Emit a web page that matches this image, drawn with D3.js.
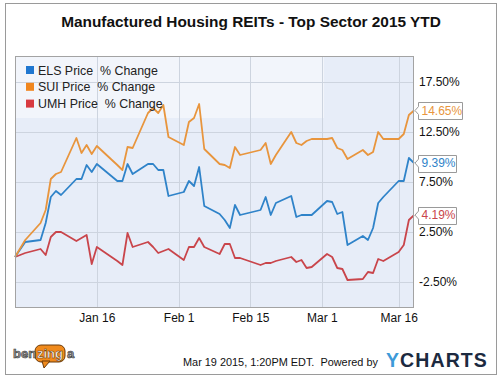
<!DOCTYPE html>
<html>
<head>
<meta charset="utf-8">
<script src="https://cdn.jsdelivr.net/npm/d3@7"></script>
<style>
  html, body { margin: 0; padding: 0; background: #fff; }
  svg { display: block; font-family: "Liberation Sans", Arial, sans-serif; }
</style>
</head>
<body>
<svg id="chart" width="500" height="379"></svg>
<script>
const title = "Manufactured Housing REITs - Top Sector 2015 YTD";
const seriesNames = ["ELS Price  % Change", "SUI Price  % Change", "UMH Price  % Change"];
const seriesColors = ["#2f83c9", "#e8953d", "#c9454b"];
const legendColors = ["#1f77d0", "#f0861e", "#d83a40"];

const dates = ["2014-12-31","2015-01-02","2015-01-05","2015-01-06","2015-01-07","2015-01-08","2015-01-09",
  "2015-01-12","2015-01-13","2015-01-14","2015-01-15","2015-01-16","2015-01-20","2015-01-21","2015-01-22","2015-01-23",
  "2015-01-26","2015-01-27","2015-01-28","2015-01-29","2015-01-30","2015-02-02","2015-02-03","2015-02-04","2015-02-05","2015-02-06",
  "2015-02-09","2015-02-10","2015-02-11","2015-02-12","2015-02-13","2015-02-17","2015-02-18","2015-02-19","2015-02-20",
  "2015-02-23","2015-02-24","2015-02-25","2015-02-26","2015-02-27","2015-03-02","2015-03-03","2015-03-04","2015-03-05","2015-03-06",
  "2015-03-09","2015-03-10","2015-03-11","2015-03-12","2015-03-13","2015-03-16","2015-03-17","2015-03-18","2015-03-19"];

const elsValues = [0,1.5,1.7,3.4,6.0,6.6,6.2,7.8,7.8,9.2,8.5,9.3,7.6,7.6,9.3,8.3,9.3,9.3,8.7,8.7,6.1,6.5,7.6,7.1,9.0,5.1,
  4.3,3.7,2.9,5.2,4.2,4.7,6.0,4.2,5.4,6.1,4.0,4.2,4.2,4.2,5.6,5.5,4.3,4.5,1.2,2.1,1.7,2.9,5.4,6.0,7.6,7.6,9.9,9.39];
const suiValues = [0,1.7,3.4,4.7,7.8,8.3,8.5,11.9,10.4,11.2,10.3,11.1,9.2,8.7,11.0,10.9,14.4,14.9,14.4,15.2,12.0,11.2,13.5,13.9,15.3,10.8,
  9.3,9.2,8.9,11.0,10.2,10.7,11.4,9.3,10.2,12.5,11.4,11.2,11.6,11.8,11.8,11.9,10.9,10.7,9.8,10.7,10.2,10.5,12.5,11.8,11.8,12.3,14.2,14.65];
const umhValues = [0,0.4,0.8,0.2,2.0,2.5,2.5,1.6,1.9,2.2,-0.7,1.0,-0.4,-0.8,2.4,1.0,1.5,1.0,0.4,0.6,0.8,-0.3,1.0,1.0,1.9,1.0,
  0.3,1.3,1.3,-0.1,-0.1,-0.8,-0.6,-0.6,-0.4,0.0,-0.5,-0.3,-1.1,-1.0,0.3,0.0,-1.1,-1.2,-2.3,-2.2,-1.5,-1.6,-0.2,-0.4,0.5,1.2,3.7,4.19];

const yTicks = [-2.5, 2.5, 7.5, 12.5, 17.5];
const xTickDates = ["2015-01-16","2015-02-01","2015-02-15","2015-03-01","2015-03-16"];
const xTickLabels = ["Jan 16","Feb 1","Feb 15","Mar 1","Mar 16"];
const footerText = "Mar 19 2015, 1:20PM EDT.  Powered by";

const parse = d3.utcParse("%Y-%m-%d");
const svg = d3.select("#chart");

// outer frame
svg.append("rect").attr("x", 5.5).attr("y", 3.5).attr("width", 491).attr("height", 371)
  .attr("fill", "#fff").attr("stroke", "#9a9a9a").attr("stroke-width", 1);

// title
svg.append("text").attr("x", 251).attr("y", 27).attr("text-anchor", "middle")
  .attr("font-size", 15.4).attr("font-weight", "bold").attr("fill", "#111").text(title);

const P = { left: 15, top: 56, right: 414, bottom: 308 };
const x = d3.scaleUtc().domain([parse("2014-12-31"), parse("2015-03-19")]).range([P.left, P.right]);
const y = d3.scaleLinear().domain([-5.1, 20.1]).range([P.bottom, P.top]);

// plot background
svg.append("rect").attr("x", P.left).attr("y", P.top).attr("width", P.right - P.left).attr("height", P.bottom - P.top)
  .attr("fill", "#e7edf8");
svg.append("rect").attr("x", P.left).attr("y", P.top).attr("width", 309).attr("height", 62)
  .attr("fill", "#ffffff").attr("opacity", 0.45);

// grid
const grid = svg.append("g");
grid.selectAll("line.h").data(yTicks).join("line")
  .attr("x1", P.left).attr("x2", P.right)
  .attr("y1", d => Math.round(y(d)) + 0.5).attr("y2", d => Math.round(y(d)) + 0.5)
  .attr("stroke", "#cdd4df").attr("stroke-width", 1);
grid.selectAll("line.v").data(xTickDates).join("line")
  .attr("x1", d => Math.round(x(parse(d))) + 0.5).attr("x2", d => Math.round(x(parse(d))) + 0.5)
  .attr("y1", P.top).attr("y2", P.bottom)
  .attr("stroke", "#cdd4df").attr("stroke-width", 1);

// lines
const allSeries = [elsValues, suiValues, umhValues];
const line = d3.line().x((d, i) => x(parse(dates[i]))).y(d => y(d));
const drawOrder = [2, 0, 1];
drawOrder.forEach(k => {
  svg.append("path").datum(allSeries[k]).attr("d", line)
    .attr("fill", "none").attr("stroke", seriesColors[k]).attr("stroke-width", 1.8)
    .attr("stroke-linejoin", "round");
});

// plot border
svg.append("rect").attr("x", P.left + 0.5).attr("y", P.top + 0.5).attr("width", P.right - P.left - 1).attr("height", P.bottom - P.top - 1)
  .attr("fill", "none").attr("stroke", "#a3a3a3").attr("stroke-width", 1);

// axes
const fmt = v => v.toFixed(2) + "%";
const yAxis = svg.append("g").attr("transform", `translate(${P.right},0)`)
  .call(d3.axisRight(y).tickValues(yTicks).tickFormat(fmt).tickSize(0).tickPadding(5));
yAxis.select(".domain").remove();
yAxis.selectAll("text").attr("font-size", 12).attr("fill", "#111").attr("font-family", "Liberation Sans, Arial, sans-serif");

const xAxis = svg.append("g").attr("transform", `translate(0,${P.bottom})`)
  .call(d3.axisBottom(x).tickValues(xTickDates.map(parse)).tickFormat((d, i) => xTickLabels[i]).tickSize(0).tickPadding(5));
xAxis.select(".domain").remove();
xAxis.selectAll("text").attr("font-size", 12).attr("fill", "#111").attr("font-family", "Liberation Sans, Arial, sans-serif");

// legend
const legend = svg.append("g");
seriesNames.forEach((n, i) => {
  const ly = 70 + i * 16.8;
  legend.append("rect").attr("x", 26).attr("y", ly - 4).attr("width", 8).attr("height", 8).attr("fill", legendColors[i]);
  legend.append("text").attr("x", 38).attr("y", ly + 4.5).attr("font-size", 12.4).attr("fill", "#222")
    .attr("xml:space", "preserve").style("white-space", "pre").text(n);
});

// end labels
const lastIdx = dates.length - 1;
allSeries.forEach((s, k) => {
  const v = s[lastIdx];
  const cy = y(v);
  const label = v.toFixed(2) + "%";
  const g = svg.append("g");
  const w = label.length > 5 ? 44 : 38;
  const bx = 418.5, by = Math.round(cy - 8.5) + 0.5, h = 17;
  g.append("path")
    .attr("d", `M${bx},${by} H${bx + w} V${by + h} H${bx} V${cy + 4} L${P.right + 1},${cy} L${bx},${cy - 4} Z`)
    .attr("fill", "#fff").attr("stroke", "#9a9a9a").attr("stroke-width", 1);
  g.append("text").attr("x", bx + 3).attr("y", cy + 4.3).attr("font-size", 12)
    .attr("fill", seriesColors[k]).text(label);
});

// footer: benzinga logo
const bz = svg.append("g");
bz.append("rect").attr("x", 35).attr("y", 345).attr("width", 30).attr("height", 17).attr("rx", 6)
  .attr("fill", "#f08a1c").attr("stroke", "#6b3a0a").attr("stroke-width", 1);
bz.append("path").attr("d", "M42,361 L44,368 L50,361 Z").attr("fill", "#f08a1c").attr("stroke", "#6b3a0a").attr("stroke-width", 1);
bz.append("text").attr("x", 13).attr("y", 358).attr("font-size", 13).attr("font-weight", "bold")
  .attr("fill", "#9a9a9a").attr("stroke", "#333").attr("stroke-width", 0.6).text("ben");
bz.append("text").attr("x", 37).attr("y", 358).attr("font-size", 13).attr("font-weight", "bold")
  .attr("fill", "#fff").attr("stroke", "#5a2c00").attr("stroke-width", 0.5).text("zing");
bz.append("text").attr("x", 67).attr("y", 358).attr("font-size", 13).attr("font-weight", "bold")
  .attr("fill", "#9a9a9a").attr("stroke", "#333").attr("stroke-width", 0.6).text("a");

// footer text
svg.append("text").attr("x", 183).attr("y", 366).attr("font-size", 10.9).attr("fill", "#111")
  .attr("xml:space", "preserve").style("white-space", "pre").text(footerText);
const yc = svg.append("text").attr("x", 386).attr("y", 367).attr("font-size", 19.5).attr("font-weight", "bold")
  .attr("letter-spacing", 1.1);
yc.append("tspan").attr("fill", "#3d9ad8").text("Y");
yc.append("tspan").attr("fill", "#1c2a40").text("CHARTS");
</script>
</body>
</html>
